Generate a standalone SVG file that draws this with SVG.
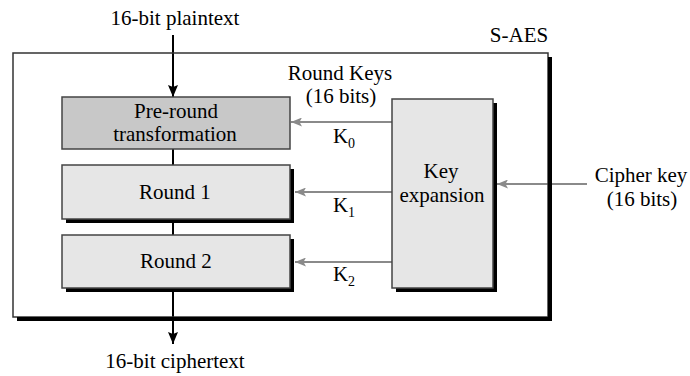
<svg xmlns="http://www.w3.org/2000/svg" width="690" height="376" viewBox="0 0 690 376" font-family="'Liberation Serif', 'DejaVu Serif', serif">
<style>
text{font-family:'Liberation Serif','DejaVu Serif',serif;font-size:21px;fill:#000;text-anchor:middle}
.box{stroke:#444;stroke-width:1.5}
.light{fill:#e6e6e6}
.dark{fill:#c8c8c8}
.shadow{fill:#000}
.flow{stroke:#000;stroke-width:2;fill:none}
.key{stroke:#8a8a8a;stroke-width:2;fill:none}
.sub{font-size:14px}
</style>
<defs>
<marker id="ab" markerUnits="userSpaceOnUse" markerWidth="12" markerHeight="10" refX="12" refY="5" orient="auto">
<path d="M0,0 L12,5 L0,10 L2,5 z" fill="#000"/>
</marker>
<marker id="ag" markerUnits="userSpaceOnUse" markerWidth="11" markerHeight="9" refX="11" refY="4.5" orient="auto">
<path d="M0,0 L11,4.5 L0,9 L2.5,4.5 z" fill="#8a8a8a"/>
</marker>
</defs>
<rect width="690" height="376" fill="#fff"/>
<g id="connectors">
<line class="flow" x1="173" y1="35" x2="173" y2="97" marker-end="url(#ab)"/>
<line class="flow" x1="173" y1="149" x2="173" y2="165"/>
<line class="flow" x1="173" y1="219" x2="173" y2="235"/>
<line class="flow" x1="173" y1="288" x2="173" y2="344" marker-end="url(#ab)"/>
<line class="key" x1="392" y1="122" x2="291" y2="122" marker-end="url(#ag)"/>
<line class="key" x1="392" y1="192" x2="295" y2="192" marker-end="url(#ag)"/>
<line class="key" x1="392" y1="262" x2="295" y2="262" marker-end="url(#ag)"/>
<line class="key" x1="587" y1="184" x2="497" y2="184" marker-end="url(#ag)"/>
</g>
<g id="s-aes">
<rect x="13" y="53" width="535" height="264" fill="none" stroke="#333" stroke-width="1.5"/>
<polygon class="shadow" points="548,57 552,57 552,321 17,321 17,317 548,317"/>
<text x="519" y="42">S-AES</text>
</g>
<g id="plaintext"><text x="175" y="25">16-bit plaintext</text></g>
<g id="ciphertext"><text x="175" y="368">16-bit ciphertext</text></g>
<g id="pre-round">
<rect class="box dark" x="62" y="97" width="228" height="52"/>
<text x="176" y="118">Pre-round</text>
<text x="175" y="141">transformation</text>
</g>
<g id="round1">
<rect class="shadow" x="66" y="169" width="228" height="54"/>
<rect class="box light" x="62" y="165" width="228" height="54"/>
<text x="175" y="199">Round 1</text>
</g>
<g id="round2">
<rect class="shadow" x="66" y="239" width="228" height="53"/>
<rect class="box light" x="62" y="235" width="228" height="53"/>
<text x="176" y="268">Round 2</text>
</g>
<g id="key-expansion">
<rect class="shadow" x="396" y="103" width="101" height="189"/>
<rect class="box light" x="392" y="99" width="101" height="189"/>
<text x="441" y="178">Key</text>
<text x="442" y="202">expansion</text>
</g>
<g id="round-keys">
<text x="340" y="80">Round Keys</text>
<text x="341" y="103">(16 bits)</text>
</g>
<g id="cipher-key">
<text x="641" y="182">Cipher key</text>
<text x="642" y="206">(16 bits)</text>
</g>
<g id="k-labels">
<text x="344" y="143">K<tspan class="sub" dy="5">0</tspan></text>
<text x="344" y="212">K<tspan class="sub" dy="5">1</tspan></text>
<text x="344" y="281">K<tspan class="sub" dy="5">2</tspan></text>
</g>
</svg>
